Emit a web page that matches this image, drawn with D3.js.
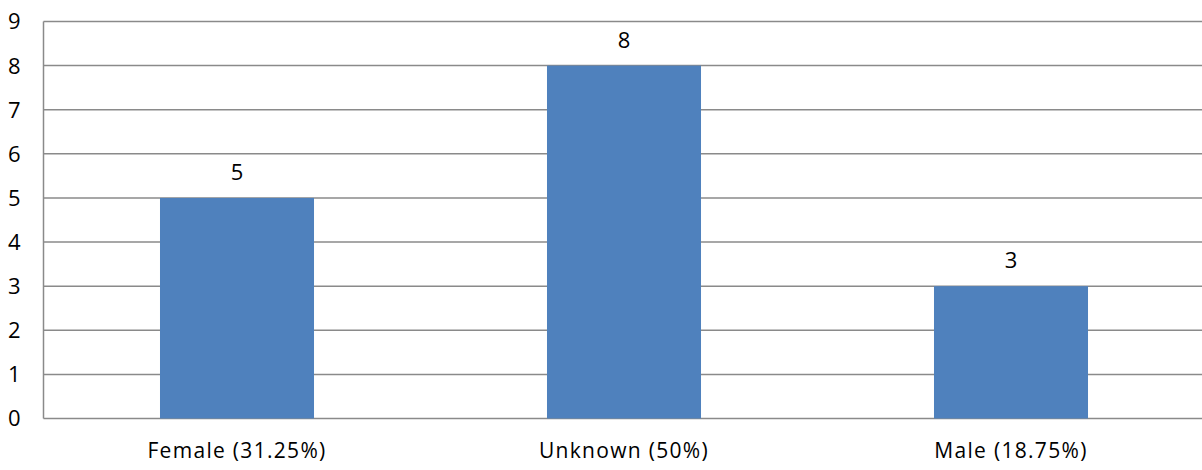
<!DOCTYPE html>
<html>
<head>
<meta charset="utf-8">
<script src="https://cdn.jsdelivr.net/npm/d3@7"></script>
<style>
  body { margin: 0; background: #fff; }
  svg text { font-family: "Open Sans", "Noto Sans", sans-serif; fill: #000; }
</style>
</head>
<body>
<svg id="chart" width="1202" height="470"></svg>
<script>
// data
var categories = ["Female (31.25%)", "Unknown (50%)", "Male (18.75%)"];
var counts = [5, 8, 3];
var yTicks = [0, 1, 2, 3, 4, 5, 6, 7, 8, 9];

var svg = d3.select("#chart");
var plotLeft = 43.5, plotRight = 1204.5, plotTop = 21.5, plotBottom = 418.5;

var x = d3.scaleBand().domain(categories).range([plotLeft, plotRight]).padding(0);
var y = d3.scaleLinear().domain([0, 9]).range([plotBottom, plotTop]);
var barW = x.bandwidth() * 0.398;

// gridlines
svg.append("g").selectAll("line")
  .data(yTicks)
  .enter().append("line")
    .attr("x1", plotLeft).attr("x2", 1202)
    .attr("y1", function(d){ return y(d); })
    .attr("y2", function(d){ return y(d); })
    .attr("stroke", "#8a8a8a")
    .attr("stroke-width", 1.5);

// y axis line
svg.append("line")
  .attr("x1", plotLeft).attr("x2", plotLeft)
  .attr("y1", plotTop).attr("y2", plotBottom)
  .attr("stroke", "#8a8a8a").attr("stroke-width", 1.5);

// y tick labels
svg.append("g").selectAll("text")
  .data(yTicks)
  .enter().append("text")
    .attr("x", 20.5)
    .attr("y", function(d){ return y(d); })
    .attr("dy", "0.36em")
    .attr("text-anchor", "end")
    .style("font-size", "22px")
    .text(function(d){ return d; });

// bars
svg.append("g").selectAll("rect")
  .data(counts)
  .enter().append("rect")
    .attr("x", function(d, i){ return x(categories[i]) + (x.bandwidth() - barW) / 2; })
    .attr("y", function(d){ return y(d); })
    .attr("width", barW)
    .attr("height", function(d){ return y(0) - y(d); })
    .attr("fill", "#4f81bd");

// value labels
svg.append("g").selectAll("text")
  .data(counts)
  .enter().append("text")
    .attr("x", function(d, i){ return x(categories[i]) + x.bandwidth() / 2; })
    .attr("y", function(d){ return y(d) - 18; })
    .attr("text-anchor", "middle")
    .style("font-size", "22px")
    .text(function(d){ return d; });

// category labels
svg.append("g").selectAll("text")
  .data(categories)
  .enter().append("text")
    .attr("x", function(d){ return x(d) + x.bandwidth() / 2; })
    .attr("y", 458)
    .attr("text-anchor", "middle")
    .style("font-size", "21px")
    .style("letter-spacing", "1.3px")
    .text(function(d){ return d; });
</script>
</body>
</html>
